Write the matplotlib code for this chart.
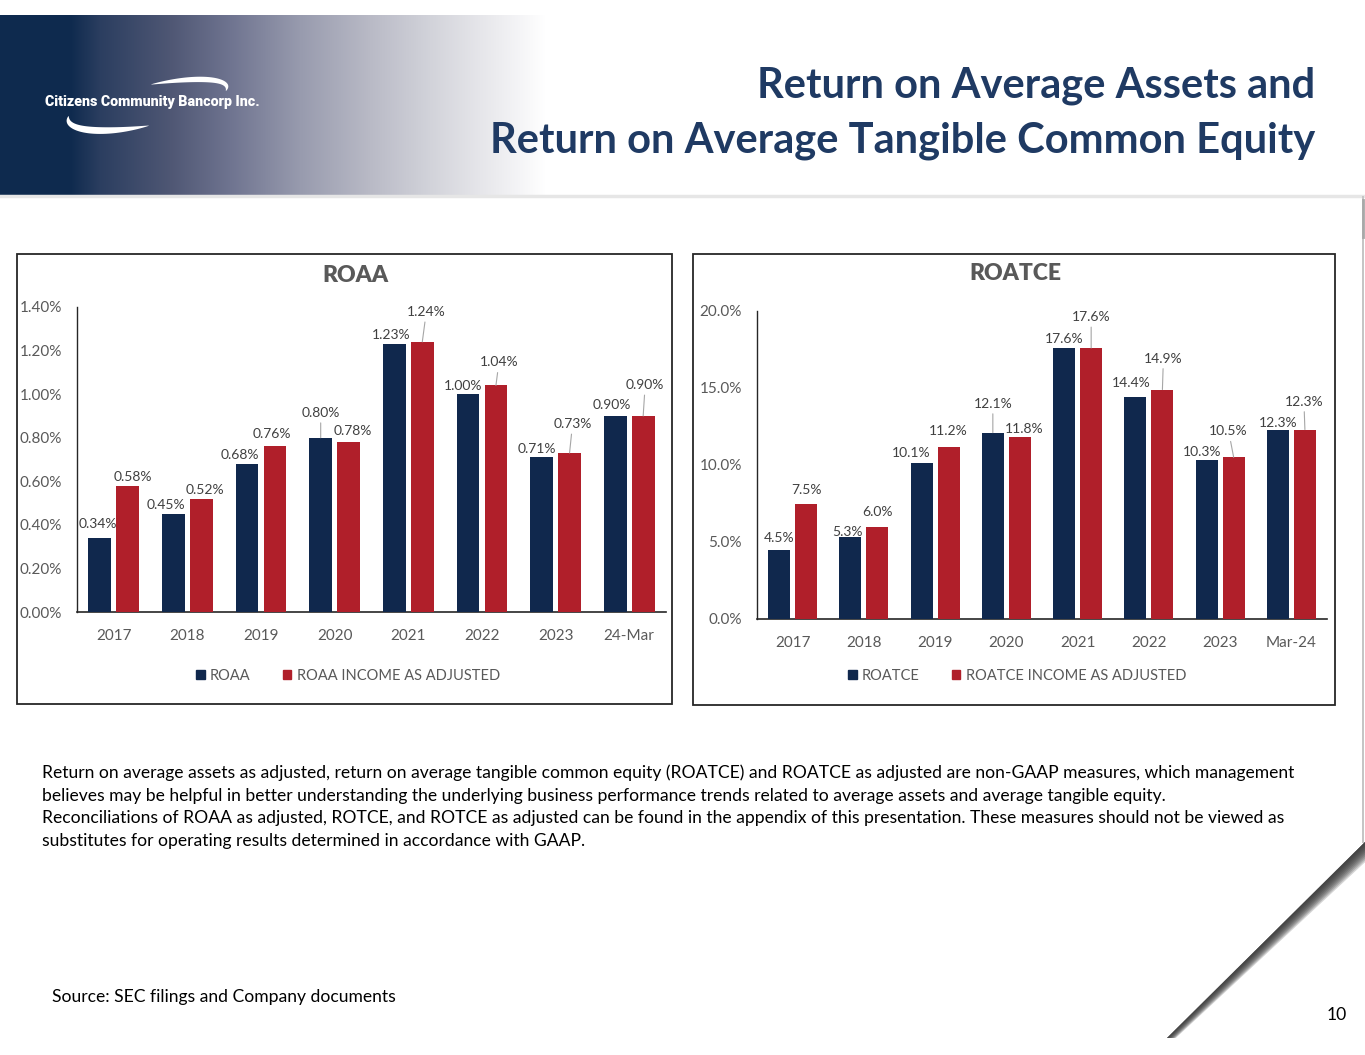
import numpy as np
import matplotlib.pyplot as plt
from matplotlib.patches import Rectangle, Polygon, Patch
from matplotlib.colors import to_rgb

W, H = 1365, 1055

# data
cats_roaa = ['2017', '2018', '2019', '2020', '2021', '2022', '2023', '24-Mar']
roaa = [0.34, 0.45, 0.68, 0.80, 1.23, 1.00, 0.71, 0.90]
roaa_adj = [0.58, 0.52, 0.76, 0.78, 1.24, 1.04, 0.73, 0.90]
roaa_ticks = [0.0, 0.2, 0.4, 0.6, 0.8, 1.0, 1.2, 1.4]

cats_roatce = ['2017', '2018', '2019', '2020', '2021', '2022', '2023', 'Mar-24']
roatce = [4.5, 5.3, 10.1, 12.1, 17.6, 14.4, 10.3, 12.3]
roatce_adj = [7.5, 6.0, 11.2, 11.8, 17.6, 14.9, 10.5, 12.3]
roatce_ticks = [0.0, 5.0, 10.0, 15.0, 20.0]

# data label offsets in pixels (dx, dy) and which ones get a leader line
off_roaa = [(-2, 14), (-8, 9), (-7, 9), (0, 25), (-3, 9), (-5, 8), (-5, 8), (-3, 11)]
off_roaa_adj = [(5, 9), (4, 9), (-3, 12), (4, 11), (4, 30), (3, 23), (3, 29), (2, 31)]
lead_roaa = [3]
lead_roaa_adj = [4, 5, 6, 7]

off_roatce = [(0, 12), (-3, 5), (-10, 10), (0, 29), (0, 9), (-4, 14), (-4, 8), (0, 7)]
off_roatce_adj = [(0, 13), (0, 15), (0, 16), (4, 8), (0, 31), (1, 31), (-5, 26), (-1, 28)]
lead_roatce = [3]
lead_roatce_adj = [4, 5, 6, 7]

NAVY = '#10284d'
RED = '#b01f2a'
GRAY = '#595959'

plt.rcParams['font.family'] = ['Lato', 'DejaVu Sans']

fig = plt.figure(figsize=(W / 100, H / 100), dpi=100)
bg = fig.add_axes([0, 0, 1, 1])
bg.set_xlim(0, W)
bg.set_ylim(H, 0)
bg.axis('off')


def fbox(x0, y0, x1, y1):
    return [x0 / W, 1 - y1 / H, (x1 - x0) / W, (y1 - y0) / H]


# header gradient band
stops_x = [0, 70, 100, 170, 230, 300, 370, 430, 480, 520, 545]
stops_c = ['#0e2a4e', '#0f2a4e', '#2b3e60', '#4f5774', '#6f7490', '#989bae',
           '#b9bac6', '#d2d3da', '#e6e6ea', '#f5f5f7', '#ffffff']
xs = np.arange(0, 546)
rgb = np.array([to_rgb(c) for c in stops_c])
grad = np.stack([np.interp(xs, stops_x, rgb[:, k]) for k in range(3)], axis=-1)
bg.imshow(grad[None, :, :], extent=(0, 546, 195, 15), aspect='auto', zorder=1)
bg.plot([0, W], [196, 196], color='#e6e6e6', lw=2.5, zorder=1)

# logo swoosh
c = np.array([147.5, 103.5])
u = np.array([0.979, -0.203])
v = np.array([-0.203, -0.979])


def crescent(p0, p1, a=81, b=18, wmax=3.2):
    t = np.linspace(p0, p1, 80)
    w = wmax * np.sin(np.linspace(0, np.pi, 80)) ** 0.8
    outer = [c + (a + wi) * np.cos(ti) * u + (b + wi) * np.sin(ti) * v for ti, wi in zip(t, w)]
    inner = [c + (a - wi) * np.cos(ti) * u + (b - wi) * np.sin(ti) * v for ti, wi in zip(t, w)]
    pts = np.array(outer + inner[::-1])
    bg.add_patch(Polygon(pts, closed=True, color='white', lw=0, zorder=3))


crescent(np.radians(85), np.radians(-12), wmax=3.3)
crescent(np.radians(268), np.radians(170), b=22, wmax=4.0)
logo = bg.text(45, 102, 'Citizens Community Bancorp Inc.', color='white', fontsize=11,
               fontweight='heavy', family=['Roboto', 'DejaVu Sans'], va='center', ha='left',
               zorder=4)

renderer = fig.canvas.get_renderer()


def fit_size(t, width):
    w = t.get_window_extent(renderer).width
    t.set_fontsize(t.get_fontsize() * width / w)
    return t.get_fontsize()


fit_size(logo, 215)

# header title
TITLE = '#1f3a63'
t2 = bg.text(1315, 141, 'Return on Average Tangible Common Equity', ha='right', va='center',
             fontsize=28, fontweight='bold', color=TITLE)
ts = fit_size(t2, 825)
bg.text(1315, 86, 'Return on Average Assets and', ha='right', va='center',
        fontsize=ts, fontweight='bold', color=TITLE)


def bar_chart(box, frame, cats, s1, s2, ticks, ylim, fmt, names, title, title_xy, leg_xy,
              o1, o2, l1, l2):
    bg.add_patch(Rectangle((frame[0], frame[1]), frame[2] - frame[0], frame[3] - frame[1],
                           fill=False, ec='#262626', lw=1.3, zorder=2))
    ax = fig.add_axes(fbox(*box))
    ax.patch.set_alpha(0)
    x = np.arange(len(cats))
    ax.bar(x - 0.19, s1, width=0.31, color=NAVY, label=names[0], zorder=3)
    ax.bar(x + 0.19, s2, width=0.31, color=RED, label=names[1], zorder=3)
    ax.set_xlim(-0.5, len(cats) - 0.5)
    ax.set_ylim(*ylim)
    ax.set_yticks(ticks)
    ax.set_yticklabels([fmt(t) for t in ticks])
    ax.set_xticks(x)
    ax.set_xticklabels(cats)
    ax.tick_params(axis='both', length=0, labelsize=11, labelcolor=GRAY)
    ax.tick_params(axis='y', pad=11)
    ax.tick_params(axis='x', pad=12)
    for sp in ['top', 'right']:
        ax.spines[sp].set_visible(False)
    ax.spines['left'].set_color('#262626')
    ax.spines['bottom'].set_color('#262626')
    ax.spines['left'].set_linewidth(1.0)
    ax.spines['bottom'].set_linewidth(1.2)

    for series, dxs, offs, leads in [(s1, -0.19, o1, l1), (s2, 0.19, o2, l2)]:
        for i, val in enumerate(series):
            dx, dy = offs[i]
            ap = None
            if i in leads:
                ap = dict(arrowstyle='-', color='#a6a6a6', lw=0.8, shrinkA=1, shrinkB=0)
            ax.annotate(fmt(val), xy=(i + dxs, val), xytext=(dx * 0.72, dy * 0.72),
                        textcoords='offset points', ha='center', va='center',
                        fontsize=10, color='#404040', arrowprops=ap, zorder=5,
                        annotation_clip=False)

    bg.text(title_xy[0], title_xy[1], title, ha='center', va='center', fontsize=16.5,
            fontweight='heavy', color=GRAY)
    handles = [Patch(color=NAVY, label=names[0]), Patch(color=RED, label=names[1])]
    ax.legend(handles=handles, loc='center', ncol=2, frameon=False,
              bbox_to_anchor=(leg_xy[0] / W, 1 - leg_xy[1] / H), bbox_transform=fig.transFigure,
              fontsize=10.5, labelcolor=GRAY, handlelength=0.6, handleheight=0.6,
              handletextpad=0.35, columnspacing=2.2)
    return ax


bar_chart((77, 307, 666, 612), (17, 254, 672, 704), cats_roaa, roaa, roaa_adj, roaa_ticks,
          (0, 1.4), lambda t: f'{t:.2f}%', ['ROAA', 'ROAA INCOME AS ADJUSTED'], 'ROAA',
          (355, 276), (348, 676), off_roaa, off_roaa_adj, lead_roaa, lead_roaa_adj)

bar_chart((757, 311, 1327, 619), (693, 254, 1335, 705), cats_roatce, roatce, roatce_adj,
          roatce_ticks, (0, 20), lambda t: f'{t:.1f}%', ['ROATCE', 'ROATCE INCOME AS ADJUSTED'],
          'ROATCE', (1015, 273), (1017, 676), off_roatce, off_roatce_adj, lead_roatce,
          lead_roatce_adj)

# footnote text
body = [
    'Return on average assets as adjusted, return on average tangible common equity (ROATCE) and ROATCE as adjusted are non-GAAP measures, which management',
    'believes may be helpful in better understanding the underlying business performance trends related to average assets and average tangible equity.',
    'Reconciliations of ROAA as adjusted, ROTCE, and ROTCE as adjusted can be found in the appendix of this presentation. These measures should not be viewed as',
    'substitutes for operating results determined in accordance with GAAP.',
]
body_y = [773, 796, 818, 841]
t0 = bg.text(42, body_y[0], body[0], ha='left', va='center', fontsize=12, color='black')
bs = fit_size(t0, 1246)
for s, y in zip(body[1:], body_y[1:]):
    bg.text(42, y, s, ha='left', va='center', fontsize=bs, color='black')

bg.text(52, 997, 'Source: SEC filings and Company documents', ha='left', va='center',
        fontsize=bs, color='black')
bg.text(1347, 1015, '10', ha='right', va='center', fontsize=bs, color='black')

# page edge and curl shadow bottom right
bg.plot([1363, 1363], [197, 842], color='#c4c4c4', lw=1.4, zorder=1)
bg.plot([1363, 1363], [200, 237], color='#a8a8a8', lw=2, zorder=1)
A = np.array([1167.0, 1038.0])
B = np.array([1368.0, 839.0])
nrm = np.array([0.703, 0.711])
clip = Rectangle((0, 0), 1365, 1038, transform=bg.transData)
for k in range(10, 0, -1):
    f = k / 10
    pts = [A, B, B + nrm * 15 * f, A + nrm * 6 * f]
    p = Polygon(pts, closed=True, color='#303030', alpha=0.2, lw=0, zorder=1)
    bg.add_patch(p)
    p.set_clip_path(clip)

fig.savefig('out.png', dpi=100)
